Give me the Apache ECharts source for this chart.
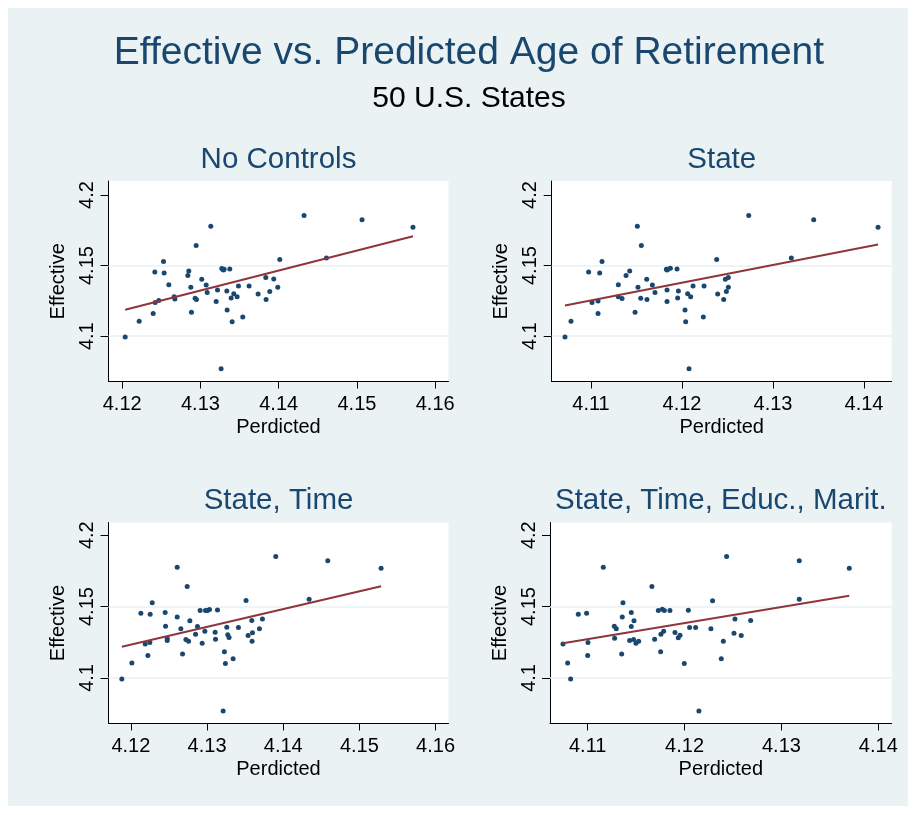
<!DOCTYPE html>
<html lang="en">
<head>
    <meta charset="UTF-8">
    <title>Effective vs. Predicted Age of Retirement</title>
    <script src="https://cdn.jsdelivr.net/npm/echarts@6/dist/echarts.min.js"></script>
    <style>
        html, body {margin: 0; padding: 0; background: #fff;}
        #my {width: 916px; height: 815px;}
    </style>
</head>
<body>
<div id="my"></div>
<script>
    // each point: [predicted, effective], one per state
    var noControls = [
        [4.12038, 4.0994], [4.12217, 4.1105], [4.12396, 4.1160], [4.12421, 4.1238], [4.12468, 4.1252],
        [4.12417, 4.1455], [4.12536, 4.1448], [4.12528, 4.1528], [4.12596, 4.1365], [4.12664, 4.1280],
        [4.12673, 4.1264], [4.12839, 4.1429], [4.12851, 4.1462], [4.12877, 4.1346], [4.12885, 4.1169],
        [4.12932, 4.1268], [4.12949, 4.1259], [4.12945, 4.1642], [4.13017, 4.1403], [4.13073, 4.1363],
        [4.13086, 4.1309], [4.13132, 4.1779], [4.13201, 4.1245], [4.13218, 4.1327], [4.13264, 4.0770],
        [4.13273, 4.1479], [4.13286, 4.1474], [4.13294, 4.1469], [4.13303, 4.1474], [4.13337, 4.1320],
        [4.13341, 4.1186], [4.13375, 4.1476], [4.13392, 4.1271], [4.13405, 4.1103], [4.13426, 4.1301],
        [4.13469, 4.1280], [4.13486, 4.1356], [4.13541, 4.1136], [4.13622, 4.1356], [4.13737, 4.1299],
        [4.13835, 4.1415], [4.13839, 4.1259], [4.13886, 4.1316], [4.13937, 4.1405], [4.13988, 4.1346],
        [4.14014, 4.1543], [4.14324, 4.1855], [4.14610, 4.1554], [4.15065, 4.1824], [4.15716, 4.1772]
    ]
    var stateCtrl = [
        [4.10714, 4.0994], [4.10780, 4.1105], [4.10974, 4.1455], [4.11011, 4.1238], [4.11077, 4.1249],
        [4.11077, 4.1160], [4.11095, 4.1448], [4.11121, 4.1528], [4.11300, 4.1365], [4.11300, 4.1280],
        [4.11341, 4.1266], [4.11385, 4.1429], [4.11425, 4.1462], [4.11484, 4.1169], [4.11509, 4.1779],
        [4.11516, 4.1346], [4.11546, 4.1268], [4.11553, 4.1642], [4.11612, 4.1403], [4.11615, 4.1259],
        [4.11674, 4.1363], [4.11703, 4.1309], [4.11828, 4.1474], [4.11842, 4.1474], [4.11835, 4.1469],
        [4.11835, 4.1327], [4.11835, 4.1245], [4.11872, 4.1481], [4.11945, 4.1476], [4.11952, 4.1271],
        [4.11960, 4.1320], [4.12033, 4.1186], [4.12040, 4.1103], [4.12062, 4.1301], [4.12077, 4.0770],
        [4.12095, 4.1280], [4.12121, 4.1356], [4.12234, 4.1136], [4.12242, 4.1356], [4.12381, 4.1543],
        [4.12392, 4.1299], [4.12458, 4.1259], [4.12476, 4.1403], [4.12487, 4.1316], [4.12509, 4.1415],
        [4.12509, 4.1346], [4.12733, 4.1855], [4.13201, 4.1554], [4.13447, 4.1824], [4.14154, 4.1772]
    ]
    var stateTime = [
        [4.11881, 4.0993], [4.12013, 4.1104], [4.12131, 4.1453], [4.12188, 4.1238], [4.12223, 4.1158],
        [4.12249, 4.1248], [4.12253, 4.1446], [4.12280, 4.1526], [4.12450, 4.1458], [4.12455, 4.1363],
        [4.12477, 4.1276], [4.12477, 4.1262], [4.12608, 4.1776], [4.12608, 4.1427], [4.12656, 4.1344],
        [4.12678, 4.1168], [4.12722, 4.1269], [4.12739, 4.1641], [4.12757, 4.1257], [4.12774, 4.1401],
        [4.12849, 4.1307], [4.12874, 4.1361], [4.12909, 4.1472], [4.12936, 4.1243], [4.12971, 4.1328],
        [4.12979, 4.1472], [4.13006, 4.1472], [4.13032, 4.1479], [4.13106, 4.1321], [4.13111, 4.1271],
        [4.13137, 4.1476], [4.13211, 4.0769], [4.13228, 4.1184], [4.13241, 4.1101], [4.13259, 4.1356],
        [4.13272, 4.1302], [4.13289, 4.1283], [4.13342, 4.1135], [4.13412, 4.1354], [4.13512, 4.1542],
        [4.13539, 4.1297], [4.13587, 4.1403], [4.13596, 4.1316], [4.13591, 4.1257], [4.13688, 4.1344],
        [4.13727, 4.1413], [4.13902, 4.1851], [4.14340, 4.1552], [4.14585, 4.1821], [4.15285, 4.1769]
    ]
    var stateTimeEducMarit = [
        [4.10745, 4.1238], [4.10793, 4.1104], [4.10824, 4.0993], [4.10903, 4.1446], [4.10989, 4.1453],
        [4.11000, 4.1158], [4.11003, 4.1248], [4.11161, 4.1776], [4.11275, 4.1363], [4.11278, 4.1278],
        [4.11295, 4.1344], [4.11351, 4.1168], [4.11357, 4.1427], [4.11364, 4.1526], [4.11433, 4.1262],
        [4.11450, 4.1458], [4.11450, 4.1361], [4.11474, 4.1269], [4.11478, 4.1401], [4.11498, 4.1243],
        [4.11526, 4.1257], [4.11663, 4.1641], [4.11691, 4.1271], [4.11729, 4.1472], [4.11753, 4.1184],
        [4.11756, 4.1307], [4.11770, 4.1481], [4.11784, 4.1328], [4.11791, 4.1472], [4.11849, 4.1472],
        [4.11901, 4.1319], [4.11935, 4.1281], [4.11953, 4.1299], [4.11997, 4.1101], [4.12039, 4.1474],
        [4.12052, 4.1354], [4.12114, 4.1354], [4.12148, 4.0769], [4.12272, 4.1344], [4.12289, 4.1540],
        [4.12379, 4.1135], [4.12400, 4.1257], [4.12434, 4.1851], [4.12510, 4.1314], [4.12520, 4.1413],
        [4.12585, 4.1297], [4.12682, 4.1403], [4.13184, 4.1821], [4.13184, 4.1552], [4.13700, 4.1769]
    ]

    var panelTitles = ['No Controls', 'State', 'State, Time', 'State, Time, Educ., Marit.']
    var xTicksLeft = [4.12, 4.13, 4.14, 4.15, 4.16]
    var xTicksRight = [4.11, 4.12, 4.13, 4.14]
    var yTicks = [4.1, 4.15, 4.2]
    var gridTicks = [4.1, 4.15]   // stata leaves out the grid line near the top edge

    var FONT = 'Liberation Sans, Arial, sans-serif'
    var NAVY = '#1a476f'
    var MAROON = '#90353b'
    var BG = '#eaf2f3'

    // layout of the four plot regions (px) and their axis ranges
    var panels = [
        {data: noControls, xTicks: xTicksLeft, left: 108.5, top: 181, width: 340, height: 200.5,
            xMin: 4.11825, xMax: 4.1617, yMin: 4.0679, yMax: 4.2099},
        {data: stateCtrl, xTicks: xTicksRight, left: 551.7, top: 181, width: 340, height: 200.5,
            xMin: 4.10568, xMax: 4.14304, yMin: 4.0679, yMax: 4.2099},
        {data: stateTime, xTicks: xTicksLeft, left: 108.5, top: 522.5, width: 340, height: 201,
            xMin: 4.11706, xMax: 4.1617, yMin: 4.0681, yMax: 4.2089},
        {data: stateTimeEducMarit, xTicks: xTicksRight, left: 550, top: 522.5, width: 341.7, height: 201,
            xMin: 4.10611, xMax: 4.14138, yMin: 4.0681, yMax: 4.2089}
    ]

    // linear fit (like stata lfit), drawn from min x to max x
    function lfit(pts) {
        var n = pts.length, sx = 0, sy = 0, sxx = 0, sxy = 0
        var lo = Infinity, hi = -Infinity
        for (var i = 0; i < n; i++) {
            var x = pts[i][0], y = pts[i][1]
            sx += x; sy += y; sxx += x * x; sxy += x * y
            if (x < lo) lo = x
            if (x > hi) hi = x
        }
        var mx = sx / n, my = sy / n
        var b = (sxy - n * mx * my) / (sxx - n * mx * mx)
        var a = my - b * mx
        return [[lo, a + b * lo], [hi, a + b * hi]]
    }

    // text placed by its baseline (middle of the line box sits ~0.35em above it)
    function label(txt, x, baseline, size, color) {
        return {type: 'text', x: x, y: baseline - 0.35 * size, z: 10,
            style: {text: txt, font: size + 'px ' + FONT, fill: color, align: 'center', verticalAlign: 'middle'}}
    }

    var grids = [], xAxes = [], yAxes = [], series = [], graphics = []

    // outer graph region
    graphics.push({type: 'rect', shape: {x: 8, y: 8, width: 900, height: 798}, style: {fill: BG}, z: -10})
    graphics.push(label('Effective vs. Predicted Age of Retirement', 469, 67, 39, NAVY))
    graphics.push(label('50 U.S. States', 469, 109, 30, '#000'))

    panels.forEach(function (p, i) {
        grids.push({left: p.left, top: p.top, width: p.width, height: p.height,
            show: true, backgroundColor: '#fff', borderWidth: 0})

        graphics.push(label(panelTitles[i], p.left + p.width / 2, p.top - 11, 29.5, NAVY))

        xAxes.push({
            gridIndex: i, type: 'value', min: p.xMin, max: p.xMax,
            name: 'Perdicted', nameLocation: 'middle', nameGap: 36,
            nameTextStyle: {fontFamily: FONT, fontSize: 20, color: '#000'},
            axisLine: {show: true, onZero: false, lineStyle: {color: '#000', width: 1}},
            axisTick: {show: true, customValues: p.xTicks, length: 7, lineStyle: {color: '#000'}},
            axisLabel: {customValues: p.xTicks, margin: 13, fontFamily: FONT, fontSize: 20, color: '#000',
                formatter: function (v) { return v.toFixed(2) }},
            splitLine: {show: false}
        })
        yAxes.push({
            gridIndex: i, type: 'value', min: p.yMin, max: p.yMax,
            name: 'Effective', nameLocation: 'middle', nameGap: 40, nameRotate: 90,
            nameTextStyle: {fontFamily: FONT, fontSize: 20, color: '#000'},
            axisLine: {show: true, onZero: false, lineStyle: {color: '#000', width: 1}},
            axisTick: {show: true, customValues: yTicks, length: 8, lineStyle: {color: '#000'}},
            axisLabel: {customValues: yTicks, rotate: 90, margin: 11, fontFamily: FONT, fontSize: 20, color: '#000',
                formatter: function (v) { return String(+v.toFixed(3)) }},
            splitLine: {show: false}
        })

        // grid lines, kept under the points
        series.push({
            type: 'line', xAxisIndex: i, yAxisIndex: i, data: [], z: 1, silent: true,
            markLine: {
                z: 1, silent: true, symbol: 'none', label: {show: false},
                lineStyle: {color: BG, width: 1.5, type: 'solid'},
                data: gridTicks.map(function (t) { return {yAxis: t} })
            }
        })
        series.push({
            type: 'scatter', xAxisIndex: i, yAxisIndex: i, data: p.data, z: 3,
            symbol: 'circle', symbolSize: 5, itemStyle: {color: NAVY, opacity: 1}
        })
        series.push({
            type: 'line', xAxisIndex: i, yAxisIndex: i, data: lfit(p.data), z: 4,
            showSymbol: false, symbol: 'none', lineStyle: {color: MAROON, width: 2}
        })
    })

    var mCharts = echarts.init(document.getElementById('my'))
    mCharts.setOption({
        animation: false,
        backgroundColor: '#fff',
        graphic: graphics,
        grid: grids,
        xAxis: xAxes,
        yAxis: yAxes,
        series: series
    })
    window.onresize = mCharts.resize
</script>
</body>
</html>
